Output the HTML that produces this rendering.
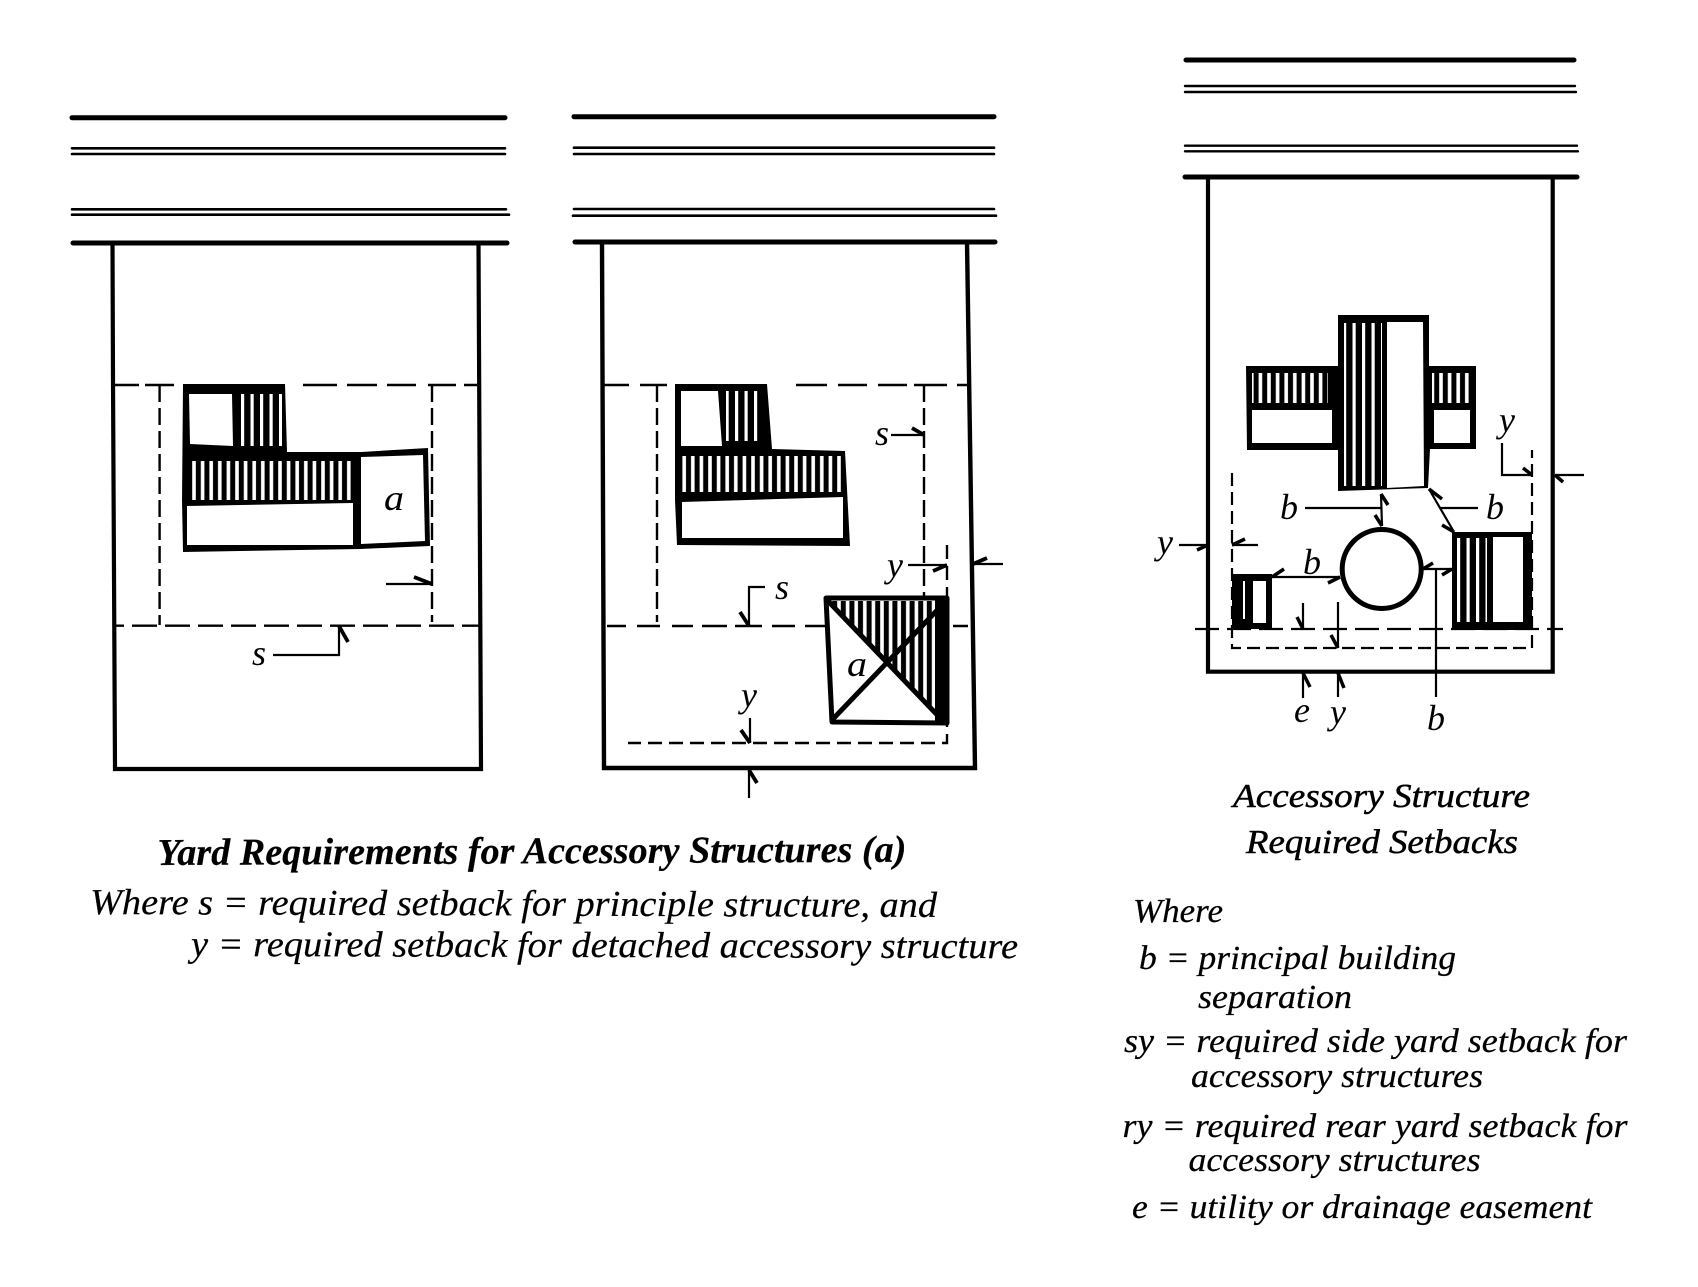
<!DOCTYPE html>
<html><head><meta charset="utf-8"><style>
html,body{margin:0;padding:0;background:#fff;width:1698px;height:1287px;overflow:hidden}
svg{display:block}
text{font-family:"Liberation Serif",serif;font-style:italic;fill:#000}
.l{font-size:36px}
.t{font-size:34px;stroke:#000;stroke-width:.25px}
.w{font-size:36.5px;stroke:#000;stroke-width:.2px}
</style></head><body>
<svg width="1698" height="1287" viewBox="0 0 1698 1287" xmlns="http://www.w3.org/2000/svg">
<defs>
<pattern id="h" patternUnits="userSpaceOnUse" width="8.6" height="40"><rect width="8.6" height="40" fill="#000"/><rect x="3" width="3.6" height="40" fill="#fff"/></pattern>
<pattern id="h2" patternUnits="userSpaceOnUse" width="9.5" height="40"><rect width="9.5" height="40" fill="#000"/><rect x="3.5" width="3.2" height="40" fill="#fff"/></pattern>
</defs>
<rect width="1698" height="1287" fill="#fff"/>

<!-- Panel 1 -->
<g stroke="#000" fill="none" stroke-linecap="round">
<path d="M72 117.7H505M73 243H507" stroke-width="5"/>
<path d="M72 148.3H505M72 154H505M72 209.3H506M72 214.7H509" stroke-width="2.6"/>
</g>
<path d="M112.5 243L113 380L115 769H481L478.5 243" stroke="#000" fill="none" stroke-width="4.2"/>
<g stroke="#000" fill="none" stroke-width="2.4">
<path d="M114 385H139M145 385H174M303 385H337M347 385H377M387 385H416M428 385H456M464 385H477"/>
<path d="M115 625.7H479" stroke-dasharray="25 8" stroke-dashoffset="16"/>
<path d="M159.6 385V625" stroke-dasharray="17 6"/>
<path d="M432 385V622" stroke-dasharray="17 6"/>
</g>
<path d="M183 384H285L287 452H361L428 448L430 546L360 549L183 552L182 500Z" fill="#000"/>
<path d="M189 394H232L233 446L190 444Z" fill="#fff"/>
<rect x="238" y="394" width="44" height="52" fill="url(#h2)"/>
<rect x="188" y="461" width="166" height="39" fill="url(#h)"/>
<path d="M187 506L353 503V545H187Z" fill="#fff"/>
<path d="M361 457L423 455L425 541L361 544Z" fill="#fff"/>
<g stroke="#000" fill="none" stroke-width="2.2">
<path d="M386 584H432M273 655H339V626"/>
<path d="M432 584L414 577M339 626L348 642" stroke-width="3.8"/>
</g>
<text class="l" x="384" y="510" textLength="20" lengthAdjust="spacingAndGlyphs">a</text>
<text class="l" x="252" y="665">s</text>

<!-- Panel 2 -->
<g stroke="#000" fill="none" stroke-linecap="round">
<path d="M574 116.7H994M575 242H995" stroke-width="5"/>
<path d="M574 147.7H994M574 154H994M574 209H994M573 215.7H996" stroke-width="2.6"/>
</g>
<path d="M602 242L604 768H975L967 242" stroke="#000" fill="none" stroke-width="4.4"/>
<g stroke="#000" fill="none" stroke-width="2.4">
<path d="M604 385H629M640 385H667M796 385H827M838 385H867M878 385H907M914 385H947M957 385H967"/>
<path d="M607 626H626M637 626H660M672 626H693M702 626H727M735 626H762M772 626H795M805 626H826M953 626H968"/>
<path d="M657 385V622" stroke-dasharray="17 6"/>
<path d="M924 385V598" stroke-dasharray="17 6"/>
<path d="M947 545V743H628" stroke-dasharray="14 7"/>
</g>
<path d="M675 384H767L772 449L845 451L850 546L677 545L675 500Z" fill="#000"/>
<path d="M681 391H718L722 446H681Z" fill="#fff"/>
<rect x="726" y="391" width="37" height="50" fill="url(#h2)"/>
<rect x="682" y="456" width="160" height="36" fill="url(#h)"/>
<path d="M682 502L843 497V538H682Z" fill="#fff"/>
<path d="M826 598H947V723L832 722Z" fill="#fff" stroke="#000" stroke-width="5" stroke-linejoin="round"/>
<path d="M830 601H945L886 662Z" fill="url(#h)"/>
<path d="M945 601V722L886 662Z" fill="url(#h)"/>
<rect x="935" y="600" width="12" height="123" fill="#000"/>
<path d="M828 601L945 723M945 602L832 720" stroke="#000" stroke-width="5"/>
<g stroke="#000" fill="none" stroke-width="2.2">
<path d="M765 587H749V626M891 435H924M908 565H947M1003 564H973M750 718V743M749 798V770"/>
<path d="M749 626L740 612M924 435L912 428M947 565L933 571M973 564L987 558M750 743L741 730M749 770L757 783" stroke-width="3.8"/>
</g>
<text class="l" x="847" y="676" textLength="20" lengthAdjust="spacingAndGlyphs">a</text>
<text class="l" x="775" y="599">s</text>
<text class="l" x="875" y="445">s</text>
<text class="l" x="887" y="577">y</text>
<text class="l" x="741" y="707">y</text>

<!-- Panel 3 -->
<g stroke="#000" fill="none" stroke-linecap="round">
<path d="M1186 60H1574M1185 177H1577" stroke-width="5"/>
<path d="M1185 86H1575M1185 92H1576M1185 145.7H1577M1185 151.3H1578" stroke-width="2.4"/>
</g>
<path d="M1208 177V671.7H1552.7V177" stroke="#000" fill="none" stroke-width="4.2"/>
<path d="M1246 366H1338V315H1429V366H1476V449H1430L1428 488L1338 491V450H1247Z" fill="#000"/>
<rect x="1252" y="373" width="76" height="30" fill="url(#h)"/>
<rect x="1432" y="373" width="40" height="30" fill="url(#h)"/>
<rect x="1252" y="410" width="80" height="33" fill="#fff"/>
<rect x="1434" y="410" width="36" height="33" fill="#fff"/>
<rect x="1344" y="323" width="38" height="163" fill="url(#h2)"/>
<path d="M1387 322H1423L1424 486L1387 488Z" fill="#fff"/>
<circle cx="1381.7" cy="569" r="39.5" fill="#fff" stroke="#000" stroke-width="5"/>
<rect x="1452" y="532" width="80" height="98" fill="#000"/>
<rect x="1457" y="538" width="30" height="84" fill="url(#h2)"/>
<rect x="1493" y="537" width="30" height="85" fill="#fff"/>
<rect x="1232" y="574" width="40" height="55" fill="#000"/>
<rect x="1243" y="581" width="2" height="38" fill="#fff"/>
<rect x="1253" y="581" width="13" height="42" fill="#fff"/>
<g stroke="#000" fill="none" stroke-width="2.2">
<path d="M1195 629H1563" stroke-dasharray="24 8"/>
<path d="M1232 473V648H1532V450" stroke-dasharray="13 6"/>
</g>
<g stroke="#000" fill="none" stroke-width="2.2">
<path d="M1502 443V475H1532M1584 475H1555M1305 508H1381M1381 494L1382 526M1440 508H1478M1429 489L1454 532M1179 545H1208M1258 545H1232M1272 577H1340M1423 569H1452M1436 569V697M1303 603V629M1303 673V698M1338 602V648M1338 673V697"/>
<path d="M1532 475L1523 468M1555 475L1563 482M1381 494L1388 505M1382 526L1375 515M1429 489L1442 499M1454 532L1442 525M1208 545L1197 550M1232 545L1245 539M1272 577L1284 569M1340 577L1328 583M1423 569L1433 563M1452 569L1442 575M1303 629L1297 617M1303 673L1310 687M1338 648L1331 635M1338 673L1344 688" stroke-width="3.5"/>
</g>
<text class="l" x="1499" y="432" font-size="32">y</text>
<text class="l" x="1280" y="519">b</text>
<text class="l" x="1486" y="519">b</text>
<text class="l" x="1157" y="554">y</text>
<text class="l" x="1303" y="574">b</text>
<text class="l" x="1427" y="730">b</text>
<text class="l" x="1294" y="722">e</text>
<text class="l" x="1330" y="724">y</text>

<!-- Captions -->
<text class="w" x="157.5" y="865" font-weight="bold" style="font-size:38px" transform="rotate(-.25 157 865)" textLength="749" lengthAdjust="spacingAndGlyphs">Yard Requirements for Accessory Structures (a)</text>
<text class="w" x="90" y="914" transform="rotate(.2 90 914)" textLength="847" lengthAdjust="spacingAndGlyphs">Where s = required setback for principle structure, and</text>
<text class="w" x="191" y="956" transform="rotate(.15 191 956)" textLength="827" lengthAdjust="spacingAndGlyphs">y = required setback for detached accessory structure</text>

<text class="t" x="1233" y="807" stroke-width=".5" style="stroke-width:.5px" textLength="297" lengthAdjust="spacingAndGlyphs">Accessory Structure</text>
<text class="t" x="1246" y="853" style="stroke-width:.5px" textLength="272" lengthAdjust="spacingAndGlyphs">Required Setbacks</text>
<text class="t" x="1133" y="922" textLength="90" lengthAdjust="spacingAndGlyphs">Where</text>
<text class="t" x="1139" y="969" textLength="317" lengthAdjust="spacingAndGlyphs">b = principal building</text>
<text class="t" x="1198" y="1008" textLength="154" lengthAdjust="spacingAndGlyphs">separation</text>
<text class="t" x="1124" y="1052" textLength="503" lengthAdjust="spacingAndGlyphs">sy = required side yard setback for</text>
<text class="t" x="1191" y="1087" textLength="292" lengthAdjust="spacingAndGlyphs">accessory structures</text>
<text class="t" x="1122.5" y="1137" textLength="505" lengthAdjust="spacingAndGlyphs">ry = required rear yard setback for</text>
<text class="t" x="1188.5" y="1171" textLength="292" lengthAdjust="spacingAndGlyphs">accessory structures</text>
<text class="t" x="1132" y="1218" textLength="460" lengthAdjust="spacingAndGlyphs">e = utility or drainage easement</text>
</svg>
</body></html>
